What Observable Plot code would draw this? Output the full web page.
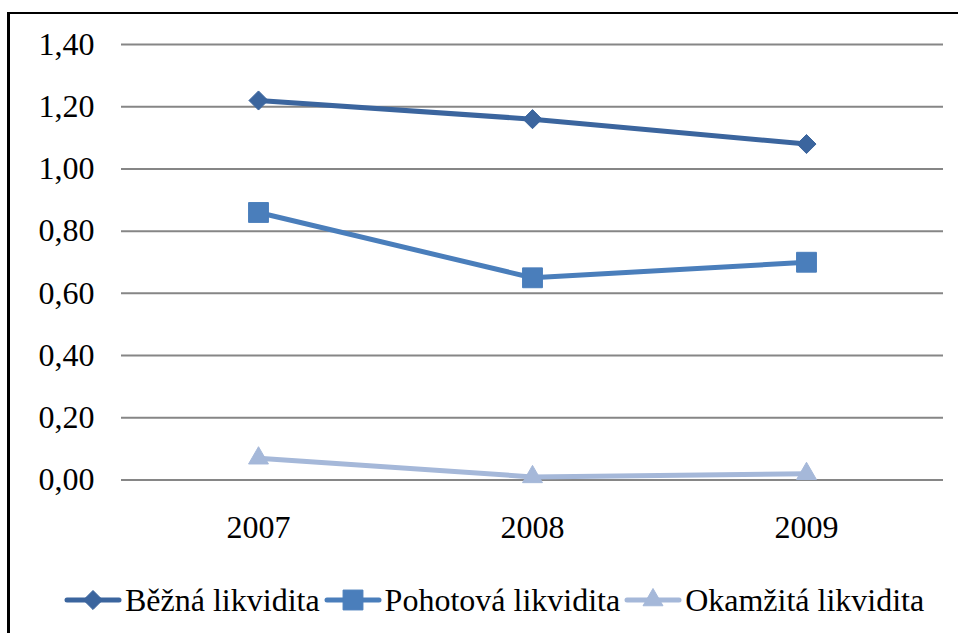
<!DOCTYPE html>
<html>
<head>
<meta charset="utf-8">
<script src="https://cdn.jsdelivr.net/npm/d3@7"></script>
<script src="https://cdn.jsdelivr.net/npm/@observablehq/plot@0.6"></script>
<style>
  html, body { margin: 0; padding: 0; background: #fff; }
  body { width: 958px; height: 633px; position: relative; overflow: hidden; font-family: "Liberation Serif", "Times New Roman", serif; }
  #frame { position: absolute; left: 7px; top: 12px; width: 1000px; height: 700px; border-left: 3px solid #000; border-top: 2.5px solid #000; }
  #chart { position: absolute; left: 0; top: 0; }
  #legend { position: absolute; left: 65px; top: 583px; display: flex; align-items: center; font-size: 32px; line-height: 34px; color: #000; white-space: nowrap; }
  #legend .item { display: flex; align-items: center; margin-right: 5px; }
  #legend svg { margin-right: 4px; overflow: visible; }
</style>
</head>
<body>
<div id="frame"></div>
<div id="chart"></div>
<div id="legend"></div>
<script>
const years = ["2007", "2008", "2009"];
const seriesNames = ["Běžná likvidita", "Pohotová likvidita", "Okamžitá likvidita"];
const bezna = [1.22, 1.16, 1.08];
const pohotova = [0.86, 0.65, 0.70];
const okamzita = [0.07, 0.01, 0.02];
const yTicks = [0, 0.2, 0.4, 0.6, 0.8, 1.0, 1.2, 1.4];

const colors = ["#3B659E", "#4A7EBB", "#A5B8D9"];
const symbols = ["diamond2", "square", "triangle"];
const radii = [8.6, 11.2, 7.4];
const valuesBySeries = [bezna, pohotova, okamzita];

const data = [];
seriesNames.forEach((s, i) => {
  years.forEach((y, j) => data.push({series: s, year: y, value: valuesBySeries[i][j]}));
});

const fmt = d => d.toFixed(2).replace(".", ",");

const marks = [
  Plot.ruleY(yTicks, {stroke: "#868686", strokeWidth: 2}),
  Plot.axisY({ticks: yTicks, tickFormat: fmt, tickSize: 0, tickPadding: 27, label: null}),
  Plot.axisX({tickSize: 0, tickPadding: 35, label: null})
];
seriesNames.forEach((s, i) => {
  const d = data.filter(r => r.series === s);
  marks.push(Plot.line(d, {x: "year", y: "value", stroke: colors[i], strokeWidth: 5, strokeLinecap: "round", strokeLinejoin: "round"}));
  marks.push(Plot.dot(d, {x: "year", y: "value", symbol: () => symbols[i], r: radii[i], fill: colors[i], stroke: colors[i], strokeWidth: 1, strokeLinejoin: "round"}));
});

const chart = Plot.plot({
  width: 958,
  height: 560,
  marginTop: 44,
  marginBottom: 80.5,
  marginLeft: 121,
  marginRight: 15,
  style: {fontFamily: "Liberation Serif", fontSize: "32px", color: "#000", background: "transparent", overflow: "visible"},
  x: {type: "point", domain: years, padding: 0.5},
  y: {domain: [0, 1.4]},
  symbol: {type: "identity"},
  marks
});
document.getElementById("chart").appendChild(chart);

// Legend
const legend = d3.select("#legend");
seriesNames.forEach((s, i) => {
  const item = legend.append("div").attr("class", "item");
  const svg = item.append("svg").attr("width", 56).attr("height", 24);
  svg.append("line").attr("x1", 2).attr("x2", 54).attr("y1", 12).attr("y2", 12)
    .attr("stroke", colors[i]).attr("stroke-width", 5).attr("stroke-linecap", "round");
  const symMap = {diamond2: d3.symbolDiamond2, square: d3.symbolSquare, triangle: d3.symbolTriangle};
  svg.append("path").attr("transform", "translate(28,12)")
    .attr("d", d3.symbol(symMap[symbols[i]], radii[i] * radii[i] * Math.PI)())
    .attr("fill", colors[i]).attr("stroke", colors[i]).attr("stroke-width", 1).attr("stroke-linejoin", "round");
  item.append("span").text(s);
});
</script>
</body>
</html>
